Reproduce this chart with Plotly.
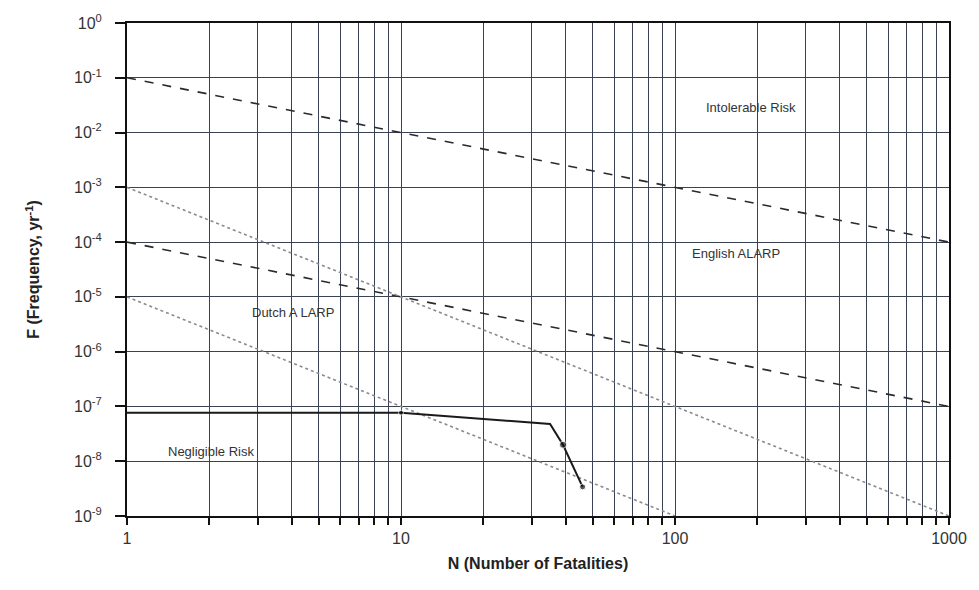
import math
import plotly.graph_objects as go

# FN criterion lines (N, F)
english_upper_n = [1, 1000]
english_upper_f = [1e-1, 1e-4]
english_lower_n = [1, 1000]
english_lower_f = [1e-4, 1e-7]
dutch_upper_n = [1, 1000]
dutch_upper_f = [1e-3, 1e-9]
dutch_lower_n = [1, 100]
dutch_lower_f = [1e-5, 1e-9]

# FN curve of the installation
fn_n = [1, 10, 35, 39, 46]
fn_f = [7.7e-8, 7.7e-8, 4.8e-8, 2.0e-8, 3.4e-9]
fn_marker_n = [10, 39, 46]
fn_marker_f = [7.7e-8, 2.0e-8, 3.4e-9]

# Axis ticks
x_tickvals = [m * 10 ** e for e in range(3) for m in range(1, 10)] + [1000]
x_ticktext = [str(v) if v in (1, 10, 100, 1000) else "" for v in x_tickvals]
y_exponents = list(range(0, -10, -1))
y_tickvals = [10.0 ** e for e in y_exponents]
y_ticktext = [f"10<sup>{e}</sup>" for e in y_exponents]

region_labels = ["Intolerable Risk", "English ALARP", "Dutch A LARP", "Negligible Risk"]
region_x = [190, 167, 4.05, 2.02]
region_y = [2.9e-2, 6.2e-5, 5.2e-6, 1.5e-8]

grid_color = "#3c4256"

fig = go.Figure()
fig.add_trace(go.Scatter(x=english_upper_n, y=english_upper_f, mode="lines",
                         line=dict(color="#2a2a2a", width=1.6, dash="dash")))
fig.add_trace(go.Scatter(x=english_lower_n, y=english_lower_f, mode="lines",
                         line=dict(color="#2a2a2a", width=1.6, dash="dash")))
fig.add_trace(go.Scatter(x=dutch_upper_n, y=dutch_upper_f, mode="lines",
                         line=dict(color="#8a8a8a", width=1.6, dash="dot")))
fig.add_trace(go.Scatter(x=dutch_lower_n, y=dutch_lower_f, mode="lines",
                         line=dict(color="#8a8a8a", width=1.6, dash="dot")))
fig.add_trace(go.Scatter(x=fn_n, y=fn_f, mode="lines",
                         line=dict(color="#1a1a1a", width=2)))
fig.add_trace(go.Scatter(x=fn_marker_n, y=fn_marker_f, mode="markers",
                         marker=dict(color="#111111", size=[5, 7, 6])))

# Region labels (annotation positions on log axes are given in log10 units)
for txt, xv, yv in zip(region_labels, region_x, region_y):
    fig.add_annotation(x=math.log10(xv), y=math.log10(yv), xref="x", yref="y",
                       text=txt, showarrow=False,
                       font=dict(family="Liberation Sans, Arial", size=13, color="#333333"))

fig.update_layout(
    width=979, height=590,
    margin=dict(l=127, r=27, t=20, b=74),
    paper_bgcolor="white", plot_bgcolor="white",
    showlegend=False,
    font=dict(family="Liberation Sans, Arial", color="#222222"),
)
fig.update_xaxes(
    type="log", range=[0, 3],
    tickvals=x_tickvals, ticktext=x_ticktext,
    ticks="outside", ticklen=7, tickwidth=1.5, tickcolor="#111111",
    showgrid=True, gridcolor=grid_color, gridwidth=1,
    showline=True, linecolor="#111111", linewidth=2, mirror=True,
    zeroline=False,
    tickfont=dict(size=16, color="#333333"),
    title=dict(text="<b>N (Number of Fatalities)</b>",
               font=dict(family="Liberation Sans Narrow, Liberation Sans, Arial", size=16, color="#222222"),
               standoff=12),
)
fig.update_yaxes(
    type="log", range=[-9, 0],
    tickvals=y_tickvals, ticktext=y_ticktext,
    ticks="outside", ticklen=10, tickwidth=1.5, tickcolor="#111111",
    ticklabelstandoff=10,
    showgrid=True, gridcolor=grid_color, gridwidth=1,
    showline=True, linecolor="#111111", linewidth=2, mirror=True,
    zeroline=False,
    tickfont=dict(size=16, color="#333333"),
    title=dict(text="<b>F (Frequency, yr<sup>-1</sup>)</b>",
               font=dict(family="Liberation Sans, Arial", size=16, color="#222222"),
               standoff=30),
)

fig.write_html("out.html")
